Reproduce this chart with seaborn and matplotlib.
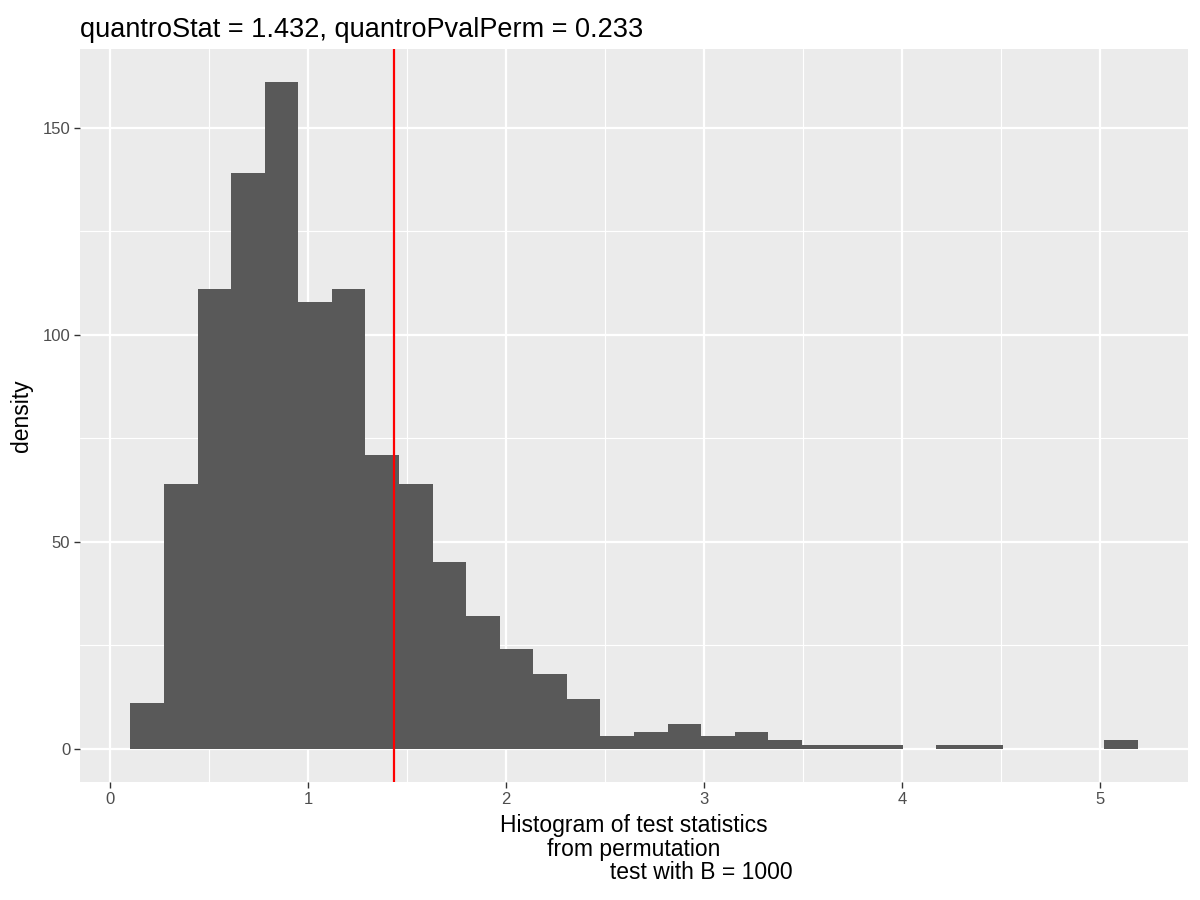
import numpy as np
import pandas as pd
import seaborn as sns
import matplotlib.pyplot as plt
from matplotlib.ticker import MultipleLocator

# histogram counts (30 bins)
counts = [11, 64, 111, 139, 161, 108, 111, 71, 64, 45,
          32, 24, 18, 12, 3, 4, 6, 3, 4, 2,
          1, 1, 1, 0, 1, 1, 0, 0, 0, 2]
bin_start = 0.101
bin_width = 0.1696
quantro_stat = 1.432
pval_perm = 0.233
B = 1000

edges = bin_start + bin_width * np.arange(len(counts) + 1)
df = pd.DataFrame({"stat": (edges[:-1] + edges[1:]) / 2, "count": counts})

sns.set_theme(style="darkgrid")
plt.rcParams["font.family"] = ["Liberation Sans", "DejaVu Sans"]

fig = plt.figure(figsize=(12, 9), dpi=100)
ax = fig.add_axes([80 / 1200, 1 - 782 / 900, 1108 / 1200, 733 / 900])
ax.set_facecolor("#EBEBEB")

sns.histplot(data=df, x="stat", weights="count", bins=list(edges), color="#595959",
             alpha=1, edgecolor="none", linewidth=0, ax=ax)
ax.axvline(quantro_stat, color="red", lw=1.6, zorder=3)

span = edges[-1] - edges[0]
ax.set_xlim(edges[0] - 0.05 * span, edges[-1] + 0.05 * span)
ax.set_ylim(-0.05 * max(counts), 1.05 * max(counts))

ax.xaxis.set_major_locator(MultipleLocator(1))
ax.xaxis.set_minor_locator(MultipleLocator(0.5))
ax.yaxis.set_major_locator(MultipleLocator(50))
ax.yaxis.set_minor_locator(MultipleLocator(25))
ax.grid(which="major", color="white", lw=1.6)
ax.grid(which="minor", color="white", lw=0.8)
ax.set_axisbelow(True)
for s in ax.spines.values():
    s.set_visible(False)

ax.tick_params(which="major", length=4, width=1, color="#333333",
               labelsize=12, labelcolor="#4D4D4D", pad=3,
               bottom=True, left=True)
ax.tick_params(which="minor", length=0)

ax.set_ylabel("density", fontsize=16.5, color="black", labelpad=7)
ax.set_xlabel("Histogram of test statistics\nfrom permutation\n"
              + " " * 21 + "test with B = %d" % B,
              fontsize=16.5, color="black", linespacing=1.05, labelpad=5)
ax.set_title("quantroStat = %.3f, quantroPvalPerm = %.3f" % (quantro_stat, pval_perm),
             loc="left", fontsize=19.5, color="black", pad=9)

fig.savefig("out.png", dpi=100, facecolor="white")
